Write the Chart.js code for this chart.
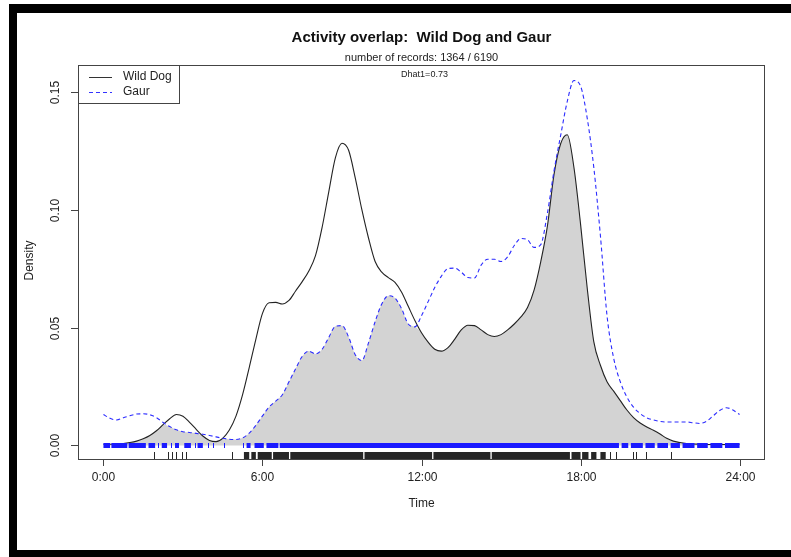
<!DOCTYPE html>
<html>
<head>
<meta charset="utf-8">
<script src="https://cdn.jsdelivr.net/npm/chart.js@4"></script>
<style>
  html, body { margin: 0; padding: 0; background: #fff; width: 791px; height: 557px; overflow: hidden; }
  #frame { position: absolute; left: 9px; top: 4px; width: 800px; height: 537px;
           border-left: 8px solid #000; border-top: 9px solid #000; border-bottom: 8px solid #000; }
  canvas { position: absolute; left: 0; top: 0; }
</style>
</head>
<body>
<div id="frame"></div>
<canvas id="c" width="791" height="557"></canvas>
<script>
// Time of day (hours) at which both density curves are sampled
const times = [
  0, 0.25, 0.5, 0.75, 1, 1.25, 1.5, 1.75, 2, 2.25, 2.5, 2.75,
  3, 3.25, 3.5, 3.75, 4, 4.25, 4.5, 4.75, 5, 5.25, 5.5, 5.75,
  6, 6.25, 6.5, 6.75, 7, 7.25, 7.5, 7.75, 8, 8.25, 8.5, 8.75,
  9, 9.25, 9.5, 9.75, 10, 10.25, 10.5, 10.75, 11, 11.25, 11.5, 11.75,
  12, 12.25, 12.5, 12.75, 13, 13.25, 13.5, 13.75, 14, 14.25, 14.5, 14.75,
  15, 15.25, 15.5, 15.75, 16, 16.25, 16.5, 16.75, 17, 17.25, 17.5, 17.75,
  18, 18.25, 18.5, 18.75, 19, 19.25, 19.5, 19.75, 20, 20.25, 20.5, 20.75,
  21, 21.25, 21.5, 21.75, 22, 22.25, 22.5, 22.75, 23, 23.25, 23.5, 23.75, 24
];

// Kernel density of Wild Dog activity
const wildDog = [
  0.0005, 0.0005, 0.0006, 0.0008, 0.0012, 0.0018, 0.0028, 0.0042, 0.0062, 0.0088, 0.0113, 0.0131,
  0.0124, 0.0098, 0.0068, 0.0040, 0.0021, 0.0016, 0.0030, 0.0065, 0.0124, 0.0215, 0.0330, 0.0450,
  0.0560, 0.0605, 0.0607, 0.0600, 0.0615, 0.0655, 0.0695, 0.0740, 0.0805, 0.0925, 0.1075, 0.1220,
  0.1282, 0.1252, 0.1135, 0.1000, 0.0880, 0.0780, 0.0735, 0.0712, 0.0692, 0.0650, 0.0590, 0.0530,
  0.0478, 0.0438, 0.0408, 0.0400, 0.0415, 0.0450, 0.0490, 0.0510, 0.0508, 0.0490, 0.0470, 0.0462,
  0.0470, 0.0490, 0.0515, 0.0545, 0.0585, 0.0660, 0.0780, 0.0930, 0.1150, 0.1280, 0.1318, 0.1180,
  0.0940, 0.0670, 0.0440, 0.0340, 0.0270, 0.0230, 0.0190, 0.0150, 0.0118, 0.0095, 0.0078, 0.0064,
  0.0048, 0.0030, 0.0018, 0.0012, 0.0008, 0.0006, 0.0005, 0.0004, 0.0004, 0.0004, 0.0004, 0.0005, 0.0005
];

// Kernel density of Gaur activity
const gaur = [
  0.0131, 0.0115, 0.0108, 0.0117, 0.0126, 0.0133, 0.0134, 0.0130, 0.0118, 0.0097, 0.0080, 0.0066,
  0.0058, 0.0055, 0.0051, 0.0047, 0.0042, 0.0036, 0.0030, 0.0026, 0.0025, 0.0032, 0.0052, 0.0085,
  0.0125, 0.0163, 0.0188, 0.0215, 0.0270, 0.0325, 0.0378, 0.0400, 0.0388, 0.0408, 0.0458, 0.0505,
  0.0508, 0.0460, 0.0385, 0.0360, 0.0435, 0.0525, 0.0600, 0.0635, 0.0625, 0.0580, 0.0515, 0.0503,
  0.0550, 0.0610, 0.0670, 0.0718, 0.0750, 0.0752, 0.0735, 0.0712, 0.0710, 0.0765, 0.0790, 0.0790,
  0.0780, 0.0800, 0.0848, 0.0878, 0.0872, 0.0840, 0.0852, 0.0985, 0.1165, 0.1315, 0.1460, 0.1548,
  0.1525, 0.1390, 0.1180, 0.0890, 0.0550, 0.0370, 0.0270, 0.0205, 0.0162, 0.0135, 0.0117, 0.0108,
  0.0102, 0.0099, 0.0099, 0.0099, 0.0099, 0.0096, 0.0093, 0.0102, 0.0125, 0.0148, 0.0160, 0.0150, 0.0131
];

// Shared area under both curves
const overlap = wildDog.map((v, i) => Math.min(v, gaur[i]));

// Axis ticks
const xTicks = [0, 6, 12, 18, 24];
const xTickLabels = ['0:00', '6:00', '12:00', '18:00', '24:00'];
const yTicks = [0, 0.05, 0.10, 0.15];
const yTickLabels = ['0.00', '0.05', '0.10', '0.15'];

// Record times shown as rugs: dense stretches [from, to] and single records
const gaurRugSpans = [
  [0.0, 0.25], [0.3, 0.9], [0.95, 1.6], [1.7, 1.95], [2.2, 2.4], [2.7, 2.85], [3.05, 3.3],
  [3.55, 3.75], [5.4, 5.55], [5.7, 6.05], [6.15, 6.6], [6.65, 19.45], [19.55, 19.8],
  [19.9, 20.35], [20.45, 20.8], [20.9, 21.3], [21.4, 21.75], [21.85, 22.3], [22.4, 22.8],
  [22.9, 23.35], [23.45, 24.0]
];
const gaurRugTicks = [2.05, 2.55, 3.45, 3.95, 4.15, 4.55, 5.25];
const wildDogRugSpans = [
  [5.3, 5.5], [5.58, 5.75], [5.82, 6.35], [6.4, 7.0], [7.05, 9.8], [9.85, 12.4], [12.45, 14.6],
  [14.65, 17.6], [17.66, 18.0], [18.06, 18.3], [18.4, 18.6], [18.75, 18.95]
];
const wildDogRugTicks = [1.9, 2.45, 2.6, 2.75, 2.95, 3.1, 4.85, 19.1, 19.35, 19.97, 20.1, 20.47, 21.42];

const FONT = '"Liberation Sans", Arial, sans-serif';

const points = vals => times.map((t, i) => ({ x: t, y: vals[i] }));

// Base-graphics style decorations: box, axes, rugs, legend and titles
const decor = {
  id: 'decor',
  afterDatasetsDraw(chart) {
    const { ctx, chartArea: a, scales: { x, y } } = chart;
    ctx.save();

    const rug = (spans, ticks, color, v0, v1) => {
      const top = Math.round(y.getPixelForValue(v0));
      const bot = Math.round(y.getPixelForValue(v1));
      ctx.fillStyle = color;
      spans.forEach(([s, e]) => {
        const x0 = x.getPixelForValue(s), x1 = x.getPixelForValue(e);
        ctx.fillRect(x0, top, Math.max(1, x1 - x0), bot - top);
      });
      ticks.forEach(t => {
        ctx.fillRect(Math.round(x.getPixelForValue(t)), top, 1, bot - top);
      });
    };
    rug(gaurRugSpans, gaurRugTicks, '#1a1aff', 0.0012, -0.0013);
    rug(wildDogRugSpans, wildDogRugTicks, '#262626', -0.0030, -0.0062);

    // plot box
    ctx.strokeStyle = '#444';
    ctx.lineWidth = 1;
    ctx.strokeRect(a.left + 0.5, a.top + 0.5, a.right - a.left - 1, a.bottom - a.top - 1);

    // x axis
    ctx.fillStyle = '#222';
    ctx.font = '12px ' + FONT;
    ctx.textAlign = 'center';
    ctx.textBaseline = 'middle';
    xTicks.forEach((t, i) => {
      const px = Math.round(x.getPixelForValue(t)) + 0.5;
      ctx.beginPath();
      ctx.moveTo(px, a.bottom);
      ctx.lineTo(px, a.bottom + 6);
      ctx.stroke();
      ctx.fillText(xTickLabels[i], px, a.bottom + 18);
    });

    // y axis with rotated labels
    yTicks.forEach((t, i) => {
      const py = Math.round(y.getPixelForValue(t)) + 0.5;
      ctx.beginPath();
      ctx.moveTo(a.left, py);
      ctx.lineTo(a.left - 7, py);
      ctx.stroke();
      ctx.save();
      ctx.translate(a.left - 22, py);
      ctx.rotate(-Math.PI / 2);
      ctx.fillText(yTickLabels[i], 0, 0);
      ctx.restore();
    });

    // axis titles
    ctx.fillText('Time', (a.left + a.right) / 2, 504);
    ctx.save();
    ctx.translate(30, (a.top + a.bottom) / 2 - 2);
    ctx.rotate(-Math.PI / 2);
    ctx.fillText('Density', 0, 0);
    ctx.restore();

    // titles
    const cx = (a.left + a.right) / 2;
    ctx.font = 'bold 15px ' + FONT;
    ctx.fillStyle = '#111';
    ctx.fillText('Activity overlap:  Wild Dog and Gaur', cx, 38);
    ctx.font = '11px ' + FONT;
    ctx.fillStyle = '#222';
    ctx.fillText('number of records: 1364 / 6190', cx, 58);
    ctx.font = '9px ' + FONT;
    ctx.fillText('Dhat1=0.73', cx + 3, 75);

    // legend
    ctx.strokeStyle = '#444';
    ctx.strokeRect(a.left + 0.5, a.top + 0.5, 101, 38);
    ctx.strokeStyle = '#333';
    ctx.beginPath();
    ctx.moveTo(89, 77.5); ctx.lineTo(112, 77.5);
    ctx.stroke();
    ctx.strokeStyle = '#3333ff';
    ctx.setLineDash([4, 3]);
    ctx.beginPath();
    ctx.moveTo(89, 92.5); ctx.lineTo(112, 92.5);
    ctx.stroke();
    ctx.setLineDash([]);
    ctx.font = '12px ' + FONT;
    ctx.textAlign = 'left';
    ctx.fillStyle = '#222';
    ctx.fillText('Wild Dog', 123, 77);
    ctx.fillText('Gaur', 123, 92);

    ctx.restore();
  }
};

new Chart(document.getElementById('c'), {
  type: 'line',
  data: {
    datasets: [
      { label: 'Wild Dog', data: points(wildDog), borderColor: '#222', borderWidth: 1.1,
        pointRadius: 0, cubicInterpolationMode: 'monotone', fill: false, order: 1 },
      { label: 'Gaur', data: points(gaur), borderColor: '#2b2bff', borderWidth: 1.1, borderDash: [4, 3],
        pointRadius: 0, cubicInterpolationMode: 'monotone', fill: false, order: 0 },
      { label: 'Overlap', data: points(overlap), borderWidth: 0, borderColor: 'rgba(0,0,0,0)',
        backgroundColor: '#d3d3d3', fill: 'origin', pointRadius: 0,
        cubicInterpolationMode: 'monotone', order: 5 }
    ]
  },
  options: {
    responsive: false,
    animation: false,
    devicePixelRatio: 1,
    layout: { padding: { left: 78, top: 65, right: 26, bottom: 97 } },
    scales: {
      x: { type: 'linear', display: false, min: -0.96, max: 24.96 },
      y: { type: 'linear', display: false, min: -0.0062, max: 0.1614 }
    },
    plugins: { legend: { display: false }, tooltip: { enabled: false } }
  },
  plugins: [decor]
});
</script>
</body>
</html>
